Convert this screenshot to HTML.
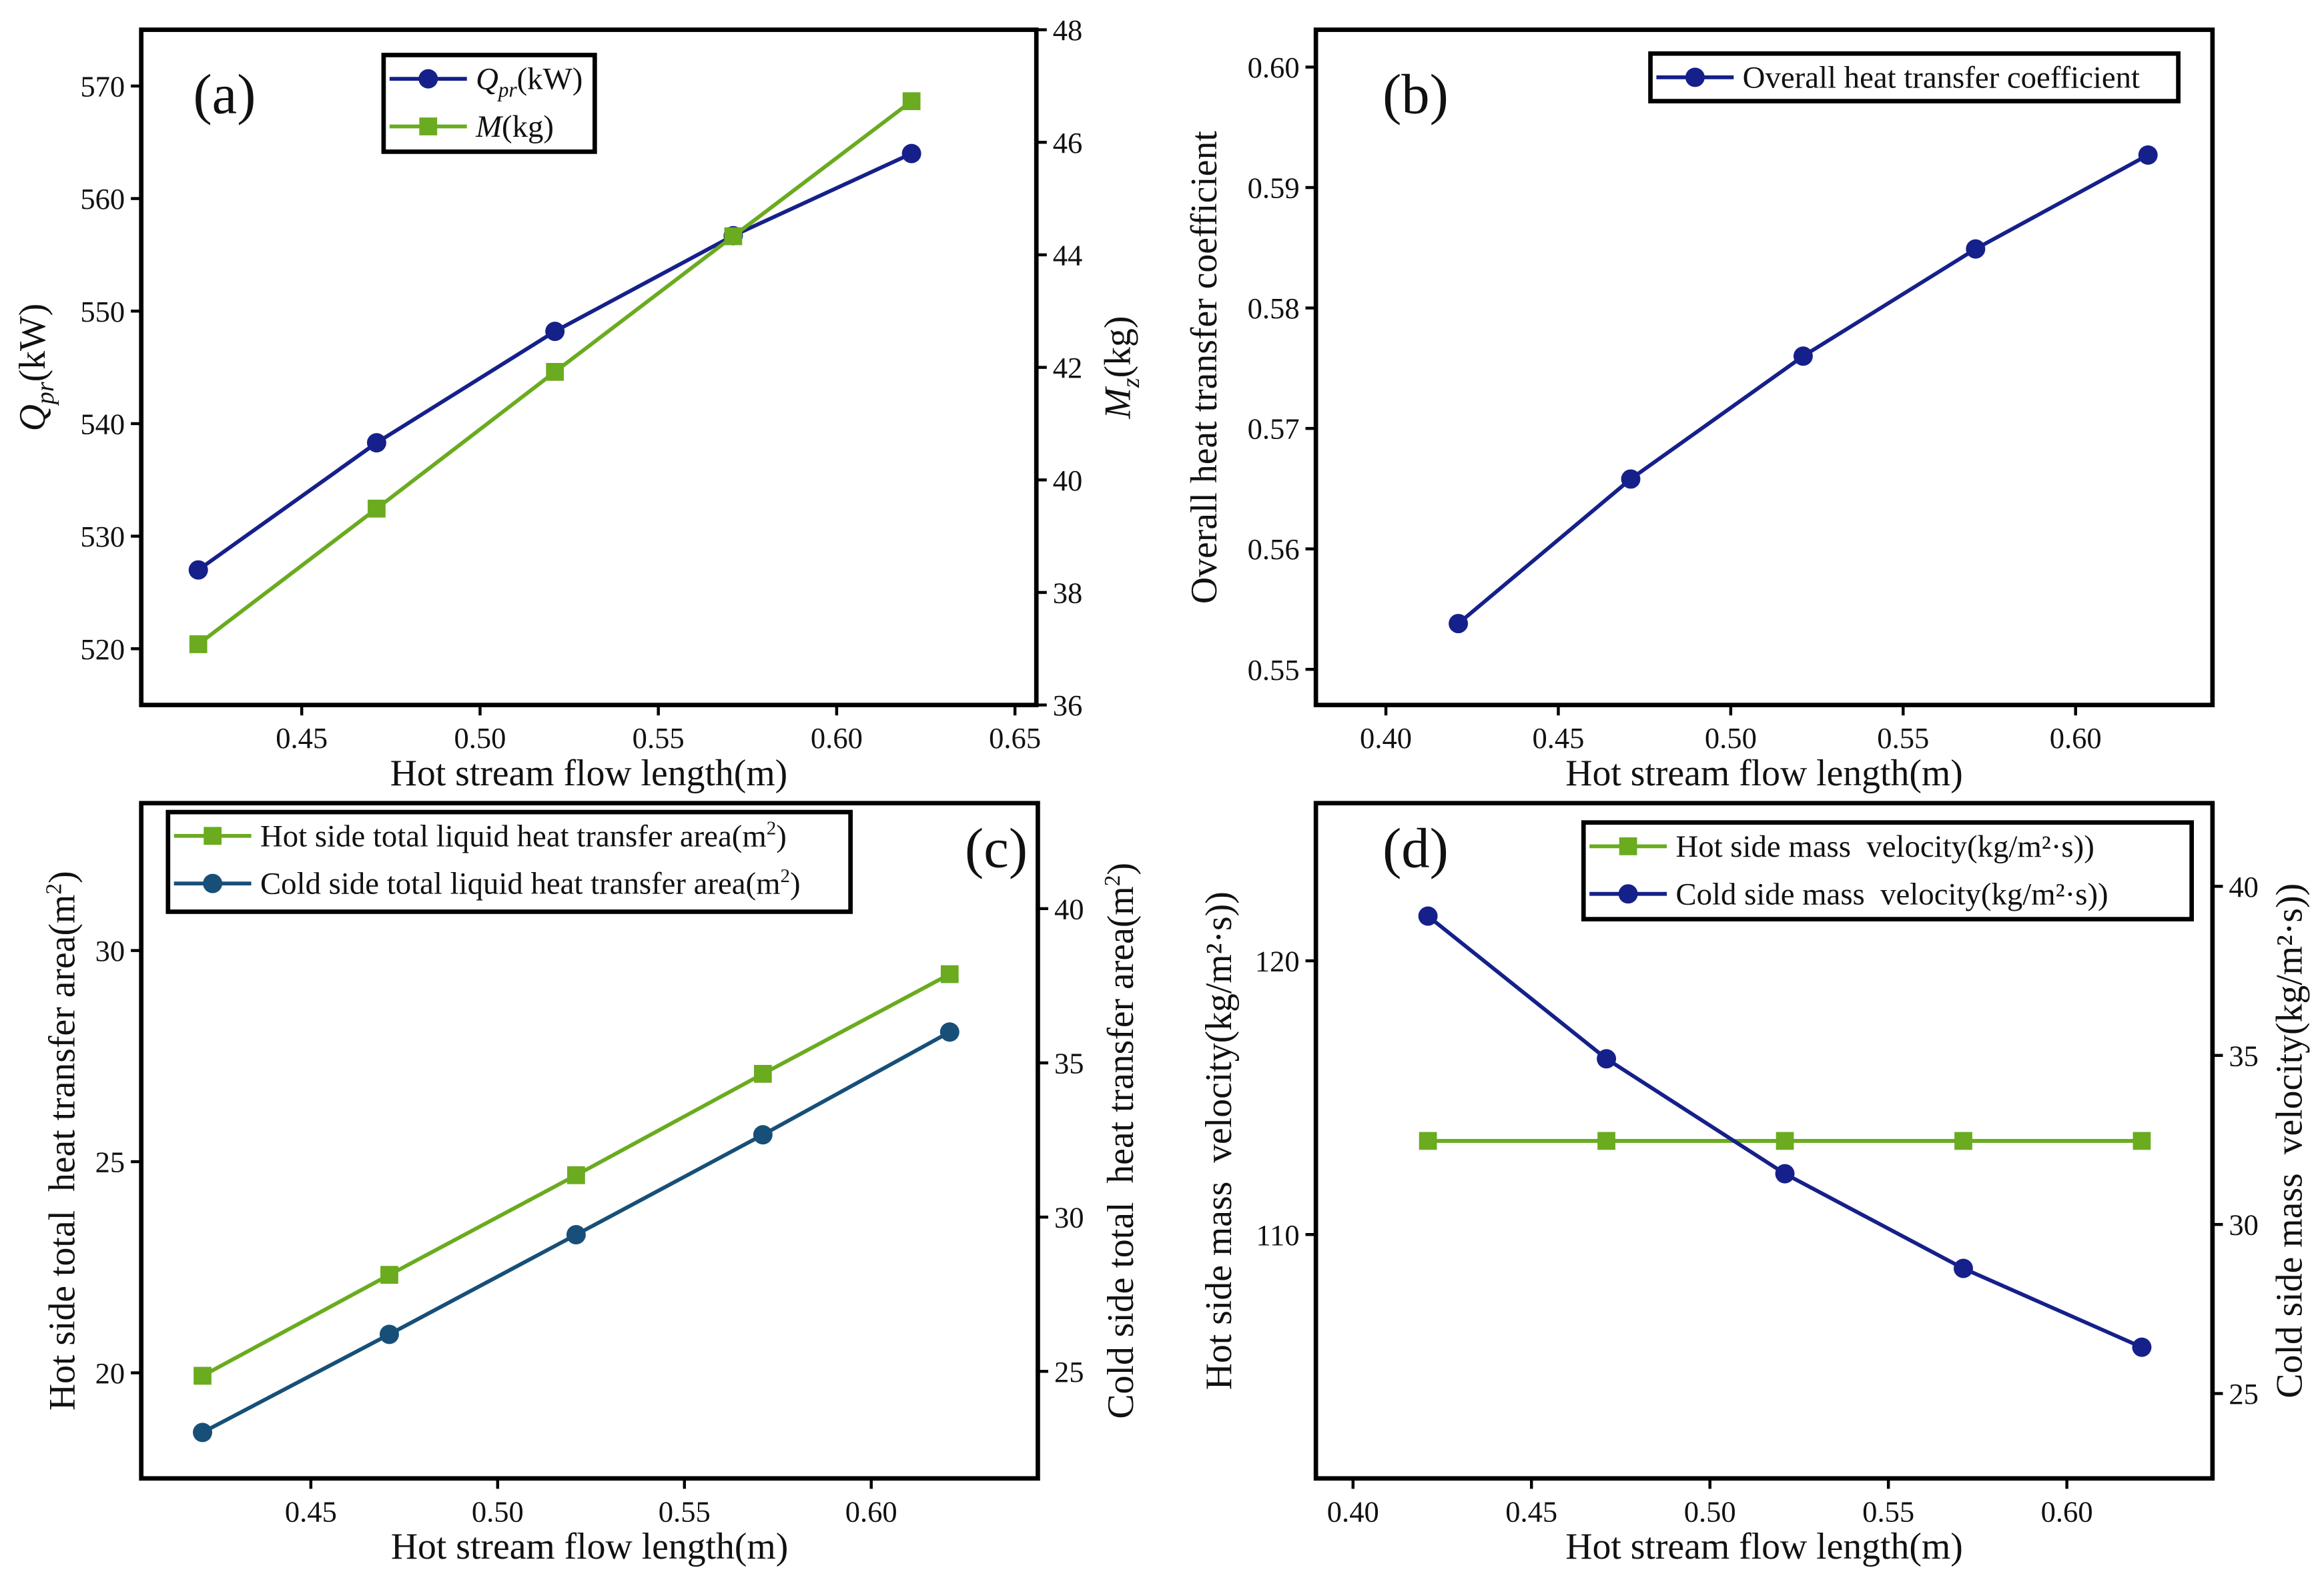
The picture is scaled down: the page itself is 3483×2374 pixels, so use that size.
<!DOCTYPE html>
<html><head><meta charset="utf-8"><style>
html,body{margin:0;padding:0;background:#fff}
svg{display:block;font-family:"Liberation Serif",serif}
svg text{white-space:pre}
</style></head><body>
<svg id="fig" width="3483" height="2374" viewBox="0 0 1563 1065" preserveAspectRatio="none" xmlns="http://www.w3.org/2000/svg"></svg>
<script>
// ---- data ----
const xLen = [0.421, 0.471, 0.521, 0.571, 0.621];
const aQpr = [527.0, 538.3, 548.2, 556.7, 564.0];
const aMass = [37.08, 39.49, 41.92, 44.33, 46.73];
const bCoef = [0.5538, 0.5658, 0.5760, 0.5849, 0.5927];
const cHotArea = [19.93, 22.32, 24.68, 27.08, 29.44];
const cColdArea = [23.02, 26.2, 29.43, 32.67, 36.0];
const dHotVel = [113.42, 113.42, 113.42, 113.42, 113.42];
const dColdVel = [39.12, 34.9, 31.5, 28.7, 26.37];
const aXTicks = [0.45, 0.50, 0.55, 0.60, 0.65];
const bXTicks = [0.40, 0.45, 0.50, 0.55, 0.60];
const cXTicks = [0.45, 0.50, 0.55, 0.60];
const dXTicks = [0.40, 0.45, 0.50, 0.55, 0.60];
const aYTicks = [520, 530, 540, 550, 560, 570];
const aY2Ticks = [36, 38, 40, 42, 44, 46, 48];
const bYTicks = [0.55, 0.56, 0.57, 0.58, 0.59, 0.60];
const cYTicks = [20, 25, 30];
const cY2Ticks = [25, 30, 35, 40];
const dYTicks = [110, 120];
const dY2Ticks = [25, 30, 35, 40];

const NS = "http://www.w3.org/2000/svg";
const svg = document.getElementById('fig');
const BLUE = "#15208a", GREEN = "#6aab1f", TEAL = "#174f78";
function el(tag, attrs, parent) {
  const e = document.createElementNS(NS, tag);
  for (const k in attrs) e.setAttribute(k, attrs[k]);
  (parent || svg).appendChild(e);
  return e;
}
function txt(s, x, y, size, parent, anchor, rot) {
  const t = el('text', {x: x, y: y, 'font-size': size, 'text-anchor': anchor || 'middle', fill: '#111'}, parent);
  if (rot) t.setAttribute('transform', 'rotate(' + rot + ' ' + x + ' ' + y + ')');
  t.innerHTML = s;
  return t;
}
function lin(d0, d1, p0, p1) { return v => p0 + (v - d0) / (d1 - d0) * (p1 - p0); }
function fmt(v, dec) { return v.toFixed(dec); }

function panel(o) {
  const g = el('g', {});
  
  
  const X = lin(o.xd[0], o.xd[1], o.L, o.R);
  const Y = lin(o.yd[0], o.yd[1], o.B, o.T);
  const Y2 = o.y2d ? lin(o.y2d[0], o.y2d[1], o.B, o.T) : null;
  o.xt.forEach(v => {
    const t = el('line', {x1: X(v), x2: X(v), y1: o.B, y2: o.B + 7, stroke: '#000', 'stroke-width': 2}, g);
    
    
    const l = txt(fmt(v, 2), X(v), o.B + 29, 20, g);
    
    
  });
  o.yt.forEach(v => {
    const t = el('line', {x1: o.L - 7, x2: o.L, y1: Y(v), y2: Y(v), stroke: '#000', 'stroke-width': 2}, g);
    
    
    const l = txt(fmt(v, o.ydec), o.L - 11, Y(v) + 7, 20, g, 'end');
    
    
  });
  if (Y2) o.y2t.forEach(v => {
    const t = el('line', {x1: o.R, x2: o.R + 7, y1: Y2(v), y2: Y2(v), stroke: '#000', 'stroke-width': 2}, g);
    
    
    const l = txt(fmt(v, 0), o.R + 11, Y2(v) + 7, 20, g, 'start');
    
    
  });
  o.series.forEach(s => {
    const sy = s.axis === 2 ? Y2 : Y;
    const pts = xLen.map((x, i) => X(x) + ',' + sy(s.vals[i])).join(' ');
    const pl = el('polyline', {points: pts, fill: 'none', stroke: s.color, 'stroke-width': 2.6}, g);
    
    
    xLen.forEach((x, i) => {
      let m;
      if (s.marker === 'c') m = el('circle', {cx: X(x), cy: sy(s.vals[i]), r: 6.5, fill: s.color}, g);
      else m = el('rect', {x: X(x) - 6, y: sy(s.vals[i]) - 6, width: 12, height: 12, fill: s.color}, g);
      
      
    });
  });
  const f = el('rect', {x: o.L, y: o.T, width: o.R - o.L, height: o.B - o.T, fill: 'none', stroke: '#000', 'stroke-width': 3}, g);
  
  
  const pl = txt(o.tag, o.tagX, o.tagY, 38, g);
  
  
  const xt = txt('Hot stream flow length(m)', (o.L + o.R) / 2, o.B + 54, 25, g);
  
  
  const yt = txt(o.ylab, o.ylx, (o.T + o.B) / 2, 25, g, 'middle', -90);
  
  
  if (o.y2lab) {
    const y2 = txt(o.y2lab, o.y2lx, (o.T + o.B) / 2, 25, g, 'middle', -90);
    
    
  }
  const lg = el('g', {}, g);
  
  
  const lb = el('rect', {x: o.lgd.x, y: o.lgd.y, width: o.lgd.w, height: o.lgd.h, fill: '#fff', stroke: '#000', 'stroke-width': 3}, lg);
  
  
  o.lgd.items.forEach((it, i) => {
    const yy = o.lgd.y + 16 + i * 32;
    const x0 = o.lgd.x + 4;
    const ln = el('line', {x1: x0, x2: x0 + 52, y1: yy, y2: yy, stroke: it.color, 'stroke-width': 2.6}, lg);
    
    
    let m;
    if (it.marker === 'c') m = el('circle', {cx: x0 + 26, cy: yy, r: 6.5, fill: it.color}, lg);
    else m = el('rect', {x: x0 + 20, y: yy - 6, width: 12, height: 12, fill: it.color}, lg);
    
    
    const t = txt(it.label, x0 + 58, yy + 7, 21, lg, 'start');
    
    
  });
}

panel({name: 'panel-a', L: 95, R: 697, T: 20, B: 474, xd: [0.405, 0.656], yd: [515, 575], y2d: [36, 48],
  xt: aXTicks, yt: aYTicks, ydec: 0, y2t: aY2Ticks, tag: '(a)', tagX: 151, tagY: 76,
  ylab: '<tspan font-style="italic">Q</tspan><tspan font-style="italic" font-size="17" dy="6">pr</tspan><tspan dy="-6">(kW)</tspan>', ylx: 30,
  y2lab: '<tspan font-style="italic">M</tspan><tspan font-style="italic" font-size="17" dy="6">z</tspan><tspan dy="-6">(kg)</tspan>', y2lx: 760,
  series: [{id: 'qpr', vals: aQpr, color: BLUE, marker: 'c', axis: 1}, {id: 'mass', vals: aMass, color: GREEN, marker: 's', axis: 2}],
  lgd: {x: 258, y: 37, w: 142, h: 65, items: [
    {label: '<tspan font-style="italic">Q</tspan><tspan font-style="italic" font-size="14" dy="5">pr</tspan><tspan dy="-5">(kW)</tspan>', color: BLUE, marker: 'c'},
    {label: '<tspan font-style="italic">M</tspan>(kg)', color: GREEN, marker: 's'}]}});

panel({name: 'panel-b', L: 885, R: 1488, T: 20, B: 474, xd: [0.3797, 0.6397], yd: [0.54704, 0.6031],
  xt: bXTicks, yt: bYTicks, ydec: 2, tag: '(b)', tagX: 952, tagY: 76,
  ylab: 'Overall heat transfer coefficient', ylx: 818,
  series: [{id: 'coef', vals: bCoef, color: BLUE, marker: 'c', axis: 1}],
  lgd: {x: 1110, y: 36, w: 355, h: 32, items: [{label: 'Overall heat transfer coefficient', color: BLUE, marker: 'c'}]}});

panel({name: 'panel-c', L: 95, R: 698, T: 540, B: 994, xd: [0.4046, 0.6446], yd: [17.5, 33.49], y2d: [21.53, 43.42],
  xt: cXTicks, yt: cYTicks, ydec: 0, y2t: cY2Ticks, tag: '(c)', tagX: 670, tagY: 583,
  ylab: 'Hot side total  heat transfer area(m<tspan font-size="15" dy="-9">2</tspan><tspan dy="9">)</tspan>', ylx: 50,
  y2lab: 'Cold side total  heat transfer area(m<tspan font-size="15" dy="-9">2</tspan><tspan dy="9">)</tspan>', y2lx: 762,
  series: [{id: 'hot-area', vals: cHotArea, color: GREEN, marker: 's', axis: 1}, {id: 'cold-area', vals: cColdArea, color: TEAL, marker: 'c', axis: 2}],
  lgd: {x: 113, y: 546, w: 459, h: 67, items: [
    {label: 'Hot side total liquid heat transfer area(m<tspan font-size="13" dy="-8">2</tspan><tspan dy="8">)</tspan>', color: GREEN, marker: 's'},
    {label: 'Cold side total liquid heat transfer area(m<tspan font-size="13" dy="-8">2</tspan><tspan dy="8">)</tspan>', color: TEAL, marker: 'c'}]}});

panel({name: 'panel-d', L: 885, R: 1488, T: 540, B: 994, xd: [0.3896, 0.6408], yd: [101.09, 125.76], y2d: [22.49, 42.46],
  xt: dXTicks, yt: dYTicks, ydec: 0, y2t: dY2Ticks, tag: '(d)', tagX: 952, tagY: 583,
  ylab: 'Hot side mass  velocity(kg/m²·s))', ylx: 828,
  y2lab: 'Cold side mass  velocity(kg/m²·s))', y2lx: 1548,
  series: [{id: 'hot-vel', vals: dHotVel, color: GREEN, marker: 's', axis: 1}, {id: 'cold-vel', vals: dColdVel, color: BLUE, marker: 'c', axis: 2}],
  lgd: {x: 1065, y: 553, w: 409, h: 65, items: [
    {label: 'Hot side mass  velocity(kg/m²·s))', color: GREEN, marker: 's'},
    {label: 'Cold side mass  velocity(kg/m²·s))', color: BLUE, marker: 'c'}]}});
</script>
</body></html>
